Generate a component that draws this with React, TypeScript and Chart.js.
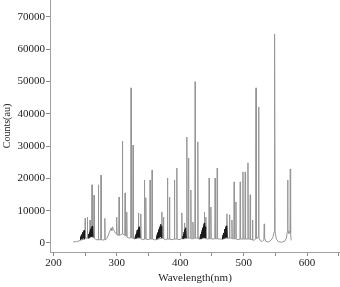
import { useEffect, useRef } from "react";
import { Chart, registerables } from "chart.js";
Chart.register(...registerables);

type Pt = [number, number];

// Main spectrum (wavelength nm, counts)
const spectrum230to300: Pt[] = [
  [231, 300], [236, 400], [240, 600], [243, 900],
  [249.5, 1200], [250, 7700], [250.5, 1500],
  [253, 1500], [253.4, 8000], [253.9, 1500],
  [257.2, 1500], [257.7, 7100], [258.2, 1800],
  [260.3, 2000], [260.8, 18000], [261.3, 2200],
  [263.5, 2200], [264, 14800], [264.5, 1500],
  [267, 1000],
  [270.3, 1000], [270.8, 18000], [271.3, 1000],
  [274.5, 1000], [275, 21000], [275.5, 1000],
  [278, 900],
  [280.5, 1000], [281, 7600], [281.5, 1000],
  [284, 1300], [286, 2200], [288, 3200], [289.5, 4000], [291, 4600], [292, 3800],
  [293, 5000], [294.5, 4200], [296, 3600], [298, 3000],
  [299.2, 2800], [299.7, 8000], [300.2, 2600],
];

const spectrum300to400: Pt[] = [
  [301, 2400], [303, 2400], [303.5, 14200], [304, 2400],
  [306, 2500], [308.2, 2800], [308.7, 31500], [309.2, 2800],
  [312.5, 2400], [313, 15500], [313.5, 2300],
  [315.1, 2000], [315.6, 9600], [316.1, 1800],
  [319, 1500], [321.9, 1600], [322.4, 48000], [322.9, 1600],
  [325.1, 1500], [325.6, 30300], [326.1, 1400],
  [328, 1200], [330.5, 1500], [331, 4000], [331.5, 1500],
  [333.5, 1500], [334, 9300], [334.5, 1500],
  [337.2, 1500], [337.7, 9000], [338.2, 1200],
  [341, 1000], [342.9, 1200], [343.4, 19500], [343.9, 1200],
  [345.1, 1200], [345.6, 14000], [346.1, 1200],
  [349, 1000], [351.9, 1200], [352.4, 19500], [352.9, 1200],
  [355.1, 1200], [355.6, 22600], [356.1, 1200],
  [359, 1000], [362, 1000],
  [370.5, 1500], [371, 9600], [371.5, 1500],
  [373, 1500], [373.5, 8000], [374, 1300],
  [377, 1000], [379.3, 1200], [379.8, 20100], [380.3, 1200],
  [382.5, 1200], [383, 14200], [383.5, 1200],
  [387, 1000], [390.3, 1200], [390.8, 19500], [391.3, 1200],
  [394.1, 1200], [394.6, 23200], [395.1, 1200],
  [398, 1000],
];

const spectrum400to500: Pt[] = [
  [402, 1300], [402.5, 9300], [403, 1300],
  [406.1, 1300], [406.6, 6200], [407.1, 1300],
  [409.9, 1500], [410.4, 32800], [410.9, 1500],
  [412.5, 1500], [413, 26300], [413.5, 1500],
  [416.2, 1500], [416.7, 16400], [417.2, 1300],
  [419.5, 1300], [420, 6500], [420.5, 1300],
  [423, 1500], [423.5, 49900], [424, 1500],
  [427.2, 1500], [427.7, 31300], [428.2, 1300],
  [431, 1200],
  [437.5, 1500], [438, 9600], [438.5, 1500],
  [439.9, 1500], [440.4, 8000], [440.9, 1300],
  [443, 1200], [445.1, 1300], [445.6, 20100], [446.1, 1300],
  [447.8, 1300], [448.3, 11100], [448.8, 1300],
  [452, 1200], [454.5, 1300], [455, 20100], [455.5, 1300],
  [457.8, 1300], [458.3, 23200], [458.8, 1300],
  [462, 1200], [466, 1200],
  [473.1, 1500], [473.6, 9000], [474.1, 1500],
  [477.2, 1500], [477.7, 8700], [478.2, 1500],
  [481, 1500], [481.5, 7100], [482, 1300],
  [484.5, 1300], [485, 18900], [485.5, 1300],
  [487.3, 1300], [487.8, 12700], [488.3, 1200],
  [491, 1000], [494.1, 1200], [494.6, 18900], [495.1, 1200],
  [498.4, 1200], [498.9, 22000], [499.4, 1200],
];

const spectrum500to576: Pt[] = [
  [502, 1200], [502.5, 22000], [503, 1200],
  [506.3, 1200], [506.8, 24800], [507.3, 1200],
  [509.9, 1200], [510.4, 14900], [510.9, 1100],
  [513.5, 1000], [514, 7100], [514.5, 900],
  [517, 900], [519, 1200], [519.5, 48000], [520, 1400],
  [522, 1500], [523.1, 2000], [523.6, 42100], [524.1, 1800],
  [526, 800], [529, 400], [531, 800], [532, 1800], [532.5, 5900], [533, 1500],
  [535, 500], [539, 300], [543, 800], [546, 1600], [548, 3500],
  [548.8, 64700], [549.6, 3500], [551.5, 1200], [555, 400], [560, 200],
  [565, 600], [567.5, 1500], [568.9, 3500], [569.4, 19500], [569.9, 4000],
  [571.5, 2800], [573.1, 4000], [573.6, 22900], [574.1, 3000], [575, 800],
];

// Dense molecular band clusters (dark)
const band243: Pt[] = [
  [242, 1000], [242.5, 1800], [243, 1100], [243.5, 2200], [244, 1200], [244.5, 2600],
  [245, 1300], [245.5, 3000], [246, 1400], [246.5, 3300], [247, 1500], [247.5, 3700],
  [248, 1600], [248.5, 4000], [249, 1200],
];
const band258: Pt[] = [
  [254.5, 1500], [255, 2200], [255.5, 1600], [256, 2800], [256.5, 1700], [257, 3400],
  [257.5, 1800], [258, 3900], [258.5, 1900], [259, 4400], [259.5, 2000], [260, 4800],
  [260.5, 2000], [261, 5200], [261.5, 2000], [262, 4600], [262.5, 1600],
];
const band333: Pt[] = [
  [328.5, 1300], [329, 2000], [329.5, 1400], [330, 2600], [330.5, 1500], [331, 3100],
  [331.5, 1600], [332, 3600], [332.5, 1700], [333, 4100], [333.5, 1800], [334, 4600],
  [334.5, 1800], [335, 5000], [335.5, 1800], [336, 4600], [336.5, 1500],
];
const band367: Pt[] = [
  [362, 1200], [362.5, 2000], [363, 1300], [363.5, 2600], [364, 1400], [364.5, 3200],
  [365, 1500], [365.5, 3800], [366, 1600], [366.5, 4300], [367, 1700], [367.5, 4800],
  [368, 1800], [368.5, 5300], [369, 1900], [369.5, 5800], [370, 1900], [370.5, 5200],
  [371, 1500],
];
const band406: Pt[] = [
  [403.5, 1300], [404, 2000], [404.5, 1400], [405, 2700], [405.5, 1500], [406, 3400],
  [406.5, 1600], [407, 4100], [407.5, 1700], [408, 4700], [408.5, 1700], [409, 4200],
  [409.5, 1400],
];
const band436: Pt[] = [
  [431, 1200], [431.5, 2000], [432, 1300], [432.5, 2700], [433, 1400], [433.5, 3400],
  [434, 1500], [434.5, 4000], [435, 1600], [435.5, 4700], [436, 1700], [436.5, 5300],
  [437, 1800], [437.5, 6000], [438, 1900], [438.5, 6200], [439, 1700], [439.5, 5000],
  [440, 1500],
];
const band471: Pt[] = [
  [466, 1200], [466.5, 1900], [467, 1300], [467.5, 2500], [468, 1400], [468.5, 3100],
  [469, 1500], [469.5, 3700], [470, 1600], [470.5, 4300], [471, 1700], [471.5, 4800],
  [472, 1800], [472.5, 5300], [473, 1800], [473.5, 5000], [474, 1500],
];

const xTicks = [200, 250, 300, 350, 400, 450, 500, 550, 600, 650];
const yTicks = [0, 10000, 20000, 30000, 40000, 50000, 60000, 70000];
const xTitle = "Wavelength(nm)";
const yTitle = "Counts(au)";

const FONT = "'Liberation Serif', 'DejaVu Serif', serif";

export default function App() {
  const ref = useRef<HTMLCanvasElement | null>(null);

  useEffect(() => {
    document.body.style.margin = "0";
    const canvas = ref.current;
    if (!canvas) return;

    const mainData = [
      ...spectrum230to300,
      ...spectrum300to400,
      ...spectrum400to500,
      ...spectrum500to576,
    ].map(([x, y]) => ({ x, y }));

    const bands = [band243, band258, band333, band367, band406, band436, band471];
    const bandData: { x: number; y: number | null }[] = [];
    bands.forEach((b) => {
      b.forEach(([x, y]) => bandData.push({ x, y }));
      bandData.push({ x: b[b.length - 1][0] + 0.1, y: null });
    });

    const chart = new Chart(canvas, {
      type: "line",
      data: {
        datasets: [
          {
            data: bandData as any,
            borderColor: "#1a1a1a",
            borderWidth: 1,
            pointRadius: 0,
            spanGaps: false,
            tension: 0,
          },
          {
            data: mainData,
            borderColor: "#969696",
            borderWidth: 1,
            pointRadius: 0,
            tension: 0,
          },
        ],
      },
      options: {
        animation: false,
        responsive: true,
        maintainAspectRatio: false,
        layout: { padding: 0 },
        plugins: {
          legend: { display: false },
          tooltip: { enabled: false },
        },
        scales: {
          x: {
            type: "linear",
            min: 194.5,
            max: 652,
            afterBuildTicks: (s: any) => {
              s.ticks = xTicks.map((v) => ({ value: v }));
            },
            afterFit: (s: any) => {
              s.height = 35;
              s.paddingLeft = 0;
              s.paddingRight = 0;
            },
            grid: {
              display: true,
              drawOnChartArea: false,
              drawTicks: true,
              tickLength: 4,
              color: "#8a8a8a",
            },
            border: { display: true, color: "#a0a0a0", width: 1 },
            ticks: {
              autoSkip: false,
              maxRotation: 0,
              padding: 1,
              color: "#222",
              font: { family: FONT, size: 11 },
              callback: (v: any) => (Number(v) % 100 === 0 ? String(v) : ""),
            },
            title: {
              display: true,
              text: xTitle,
              color: "#222",
              font: { family: FONT, size: 11 },
              padding: { top: 0, bottom: 2 },
            },
          },
          y: {
            type: "linear",
            min: -2800,
            max: 75200,
            afterBuildTicks: (s: any) => {
              s.ticks = yTicks.map((v) => ({ value: v }));
            },
            afterFit: (s: any) => {
              s.width = 50;
              s.paddingTop = 0;
              s.paddingBottom = 0;
            },
            grid: {
              display: true,
              drawOnChartArea: false,
              drawTicks: true,
              tickLength: 4,
              color: "#8a8a8a",
            },
            border: { display: true, color: "#a0a0a0", width: 1 },
            ticks: {
              autoSkip: false,
              padding: 1,
              color: "#222",
              font: { family: FONT, size: 11 },
              callback: (v: any) => String(v),
            },
            title: {
              display: true,
              text: yTitle,
              color: "#222",
              font: { family: FONT, size: 10 },
              padding: { top: 1, bottom: 1 },
            },
          },
        },
      },
    });

    return () => chart.destroy();
  }, []);

  return (
    <div style={{ position: "relative", width: 340, height: 287 }}>
      <canvas ref={ref} />
    </div>
  );
}
